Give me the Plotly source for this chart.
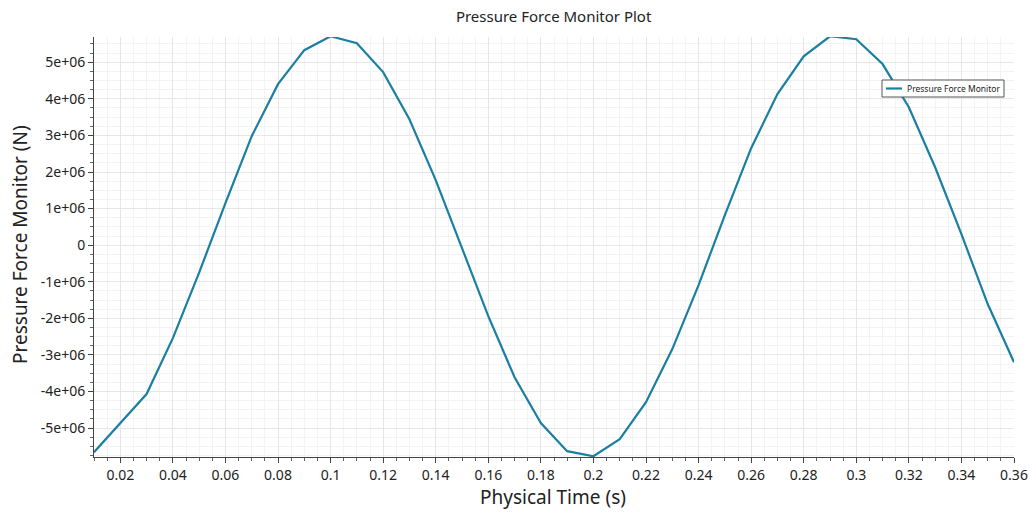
import plotly.graph_objects as go

time_s = [0.01, 0.02, 0.03, 0.04, 0.05, 0.06, 0.07, 0.08, 0.09, 0.10,
          0.11, 0.12, 0.13, 0.14, 0.15, 0.16, 0.17, 0.18, 0.19, 0.20,
          0.21, 0.22, 0.23, 0.24, 0.25, 0.26, 0.27, 0.28, 0.29, 0.30,
          0.31, 0.32, 0.33, 0.34, 0.35, 0.36]
force_n = [-5.66e6, -4.87e6, -4.07e6, -2.54e6, -0.75e6, 1.15e6, 2.98e6, 4.40e6, 5.33e6, 5.71e6,
           5.52e6, 4.73e6, 3.44e6, 1.78e6, -0.08e6, -1.94e6, -3.61e6, -4.86e6, -5.63e6, -5.77e6,
           -5.30e6, -4.29e6, -2.84e6, -1.09e6, 0.82e6, 2.65e6, 4.13e6, 5.16e6, 5.71e6, 5.63e6,
           4.95e6, 3.77e6, 2.13e6, 0.30e6, -1.61e6, -3.20e6]

x_ticks = [0.02, 0.04, 0.06, 0.08, 0.1, 0.12, 0.14, 0.16, 0.18, 0.2,
           0.22, 0.24, 0.26, 0.28, 0.3, 0.32, 0.34, 0.36]
x_tick_labels = ["0.02", "0.04", "0.06", "0.08", "0.1", "0.12", "0.14", "0.16", "0.18", "0.2",
                 "0.22", "0.24", "0.26", "0.28", "0.3", "0.32", "0.34", "0.36"]
y_ticks = [-5e6, -4e6, -3e6, -2e6, -1e6, 0, 1e6, 2e6, 3e6, 4e6, 5e6]
y_tick_labels = ["-5e+06", "-4e+06", "-3e+06", "-2e+06", "-1e+06", "0",
                 "1e+06", "2e+06", "3e+06", "4e+06", "5e+06"]
series_name = "Pressure Force Monitor"
x_title = "Physical Time (s)"
y_title = "Pressure Force Monitor (N)"

FONT = "Noto Sans, Open Sans, sans-serif"
LINE_COLOR = "#1b7fa1"

fig = go.Figure()
fig.add_trace(go.Scatter(
    x=time_s, y=force_n, mode="lines", name=series_name,
    line=dict(color=LINE_COLOR, width=2.2), showlegend=False,
))

# plot-area pixel frame, used to place the compact legend and axis titles
L, R, T, B = 94, 1014, 37, 457
W, H = R - L, B - T
def px(x):
    return (x - L) / W
def py(y):
    return (B - y) / H

fig.add_shape(type="rect", xref="paper", yref="paper",
              x0=px(882), x1=px(1004), y0=py(97), y1=py(80),
              line=dict(color="#555555", width=1), fillcolor="white", layer="above")
fig.add_shape(type="line", xref="paper", yref="paper",
              x0=px(886), x1=px(902), y0=py(88.5), y1=py(88.5),
              line=dict(color=LINE_COLOR, width=2.2), layer="above")
fig.add_annotation(text=series_name, xref="paper", yref="paper",
                   x=px(904.5), y=py(88.5), xanchor="left", yanchor="middle",
                   showarrow=False, font=dict(size=8.5, family=FONT, color="#222"))

fig.add_annotation(text=x_title, xref="paper", yref="paper",
                   x=px(553), y=py(497), xanchor="center", yanchor="middle",
                   showarrow=False, font=dict(size=19, family=FONT, color="#222"))
fig.add_annotation(text=y_title, xref="paper", yref="paper", textangle=-90,
                   x=px(20), y=py(245), xanchor="center", yanchor="middle",
                   showarrow=False, font=dict(size=19, family=FONT, color="#222"))

fig.update_layout(
    width=1030, height=514,
    margin=dict(l=94, r=16, t=37, b=57, autoexpand=False),
    paper_bgcolor="white", plot_bgcolor="white",
    font=dict(family=FONT, color="#222222"),
    title=dict(text="Pressure Force Monitor Plot", x=0.5375, xanchor="center",
               y=0.967, yanchor="middle", font=dict(size=15, family=FONT, color="#222")),
    showlegend=False,
)
fig.update_xaxes(
    range=[0.01, 0.36], tickvals=x_ticks, ticktext=x_tick_labels,
    showline=True, linecolor="#444", linewidth=1,
    ticks="outside", ticklen=5, tickcolor="#444",
    tickfont=dict(size=14, family=FONT, color="#222"),
    showgrid=True, gridcolor="#e6e6e6", gridwidth=1, zeroline=False,
    minor=dict(dtick=0.005, tick0=0, ticks="outside", ticklen=3, tickcolor="#666",
               showgrid=True, gridcolor="#f3f3f3"),
    automargin=False,
)
fig.update_yaxes(
    range=[-5.79e6, 5.69e6], tickvals=y_ticks, ticktext=y_tick_labels,
    showline=True, linecolor="#444", linewidth=1,
    ticks="outside", ticklen=5, tickcolor="#444",
    tickfont=dict(size=14, family=FONT, color="#222"),
    showgrid=True, gridcolor="#e6e6e6", gridwidth=1, zeroline=False,
    minor=dict(dtick=2.5e5, tick0=0, ticks="outside", ticklen=3, tickcolor="#666",
               showgrid=True, gridcolor="#f3f3f3"),
    automargin=False,
)

fig.write_html("out.html")
